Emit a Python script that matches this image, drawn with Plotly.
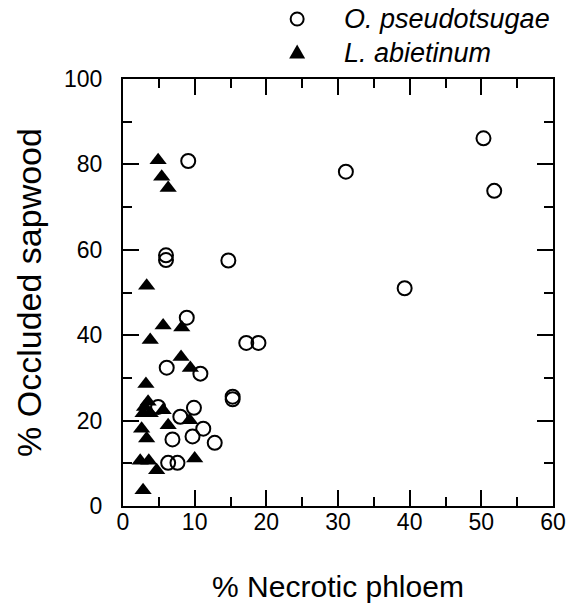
import plotly.graph_objects as go

# O. pseudotsugae (open circles)
op_x = [9.1, 6.0, 6.0, 14.7, 31.1, 50.3, 51.8, 39.3, 8.9, 17.2, 18.9, 6.1, 10.8,
        15.3, 15.3, 4.9, 9.9, 8.0, 11.2, 6.9, 9.7, 12.8, 6.3, 7.6]
op_y = [80.8, 58.7, 57.6, 57.5, 78.3, 86.1, 73.8, 51.0, 44.1, 38.2, 38.2, 32.4, 31.0,
        25.6, 25.0, 23.2, 23.0, 20.9, 18.1, 15.6, 16.3, 14.8, 10.1, 10.1]

# L. abietinum (filled triangles)
la_x = [4.9, 5.4, 6.3, 3.3, 5.6, 8.2, 3.8, 8.1, 9.4, 3.2, 3.5, 3.0, 2.8, 3.8, 5.6,
        6.3, 9.3, 2.6, 3.3, 2.4, 3.6, 4.7, 10.0, 2.8]
la_y = [81.0, 77.1, 74.5, 51.6, 42.3, 41.8, 38.9, 34.9, 32.3, 28.6, 24.4, 23.2, 21.7, 21.7, 22.4,
        18.9, 20.1, 18.1, 15.8, 10.6, 10.6, 8.4, 11.1, 3.7]

x_ticks = [0, 10, 20, 30, 40, 50, 60]
y_ticks = [0, 20, 40, 60, 80, 100]

series_names = ["O. pseudotsugae", "L. abietinum"]

FONT = "Liberation Sans, Arial"

fig = go.Figure()
fig.add_trace(go.Scatter(
    x=op_x, y=op_y, mode="markers", name=series_names[0], showlegend=False,
    marker=dict(symbol="circle-open", size=14, color="black", line=dict(width=2, color="black")),
))
fig.add_trace(go.Scatter(
    x=la_x, y=la_y, mode="markers", name=series_names[1], showlegend=False,
    marker=dict(symbol="triangle-up", size=15, color="black", line=dict(width=0)),
))

axis_common = dict(
    showline=True, linecolor="black", linewidth=2, mirror="allticks",
    ticks="inside", ticklen=16, tickwidth=2, tickcolor="black",
    showgrid=False, zeroline=False,
    tickfont=dict(family=FONT, size=23, color="black"),
)

fig.update_xaxes(
    range=[0, 60], tickvals=x_ticks, ticktext=[str(v) for v in x_ticks],
    minor=dict(ticks="inside", ticklen=9, tickwidth=2, tickcolor="black", dtick=5, showgrid=False),
    title=dict(text="% Necrotic phloem", font=dict(family=FONT, size=30, color="black"), standoff=42),
    ticklabelstandoff=-6,
    **axis_common,
)
fig.update_yaxes(
    range=[0, 100], tickvals=y_ticks, ticktext=[str(v) for v in y_ticks],
    minor=dict(ticks="inside", ticklen=9, tickwidth=2, tickcolor="black", dtick=10, showgrid=False),
    title=dict(text="% Occluded sapwood", font=dict(family=FONT, size=34, color="black"), standoff=12),
    ticklabelstandoff=14,
    **axis_common,
)

# Manual legend (keys as pixel-sized shapes anchored in paper coords, labels as annotations)
key_x = 0.405      # paper x of the legend keys
text_x = 0.512     # paper x where labels start
row_y = [1.1405, 1.062]

fig.add_shape(type="circle", xref="paper", yref="paper", xsizemode="pixel", ysizemode="pixel",
              xanchor=key_x, yanchor=row_y[0], x0=-6.5, x1=6.5, y0=-6.5, y1=6.5,
              line=dict(color="black", width=2), fillcolor="rgba(0,0,0,0)")
fig.add_shape(type="path", xref="paper", yref="paper", xsizemode="pixel", ysizemode="pixel",
              xanchor=key_x, yanchor=row_y[1], path="M-8,-6 L8,-6 L0,8 Z",
              line=dict(color="black", width=0), fillcolor="black")
for name, yy in zip(series_names, row_y):
    fig.add_annotation(xref="paper", yref="paper", x=text_x, y=yy, xanchor="left", yanchor="middle",
                       text=f"<i>{name}</i>", showarrow=False, borderpad=0,
                       font=dict(family=FONT, size=27, color="black"))

fig.update_layout(
    width=578, height=605,
    margin=dict(l=123, r=25, t=79, b=99, autoexpand=False),
    plot_bgcolor="white", paper_bgcolor="white",
    showlegend=False,
)

# remove the default 8px page margin so the figure fills the window exactly
fig.write_html("out.html", config={"displayModeBar": False},
               post_script="document.body.style.margin='0px';")
